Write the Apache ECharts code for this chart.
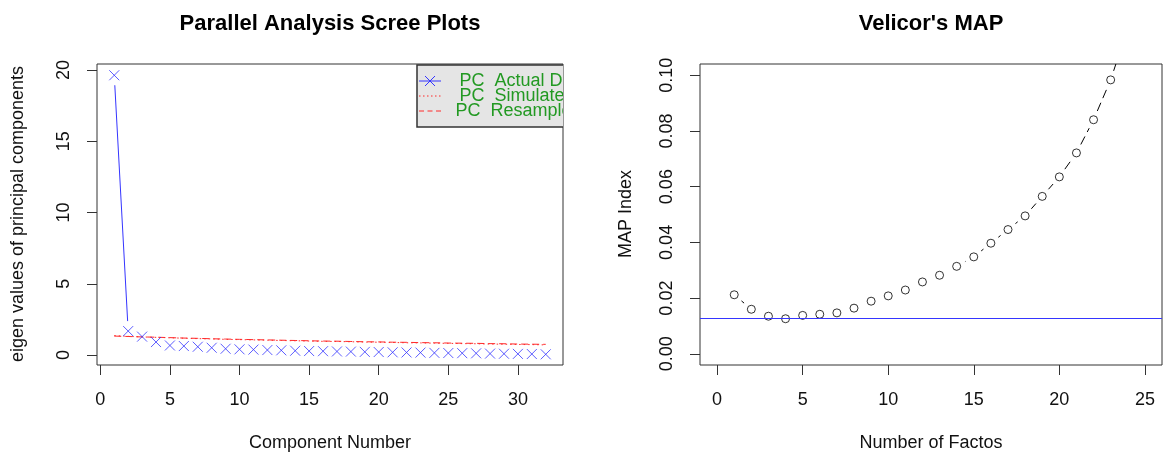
<!DOCTYPE html>
<html>
<head>
<meta charset="utf-8">
<title>Parallel Analysis / Velicor's MAP</title>
<script src="https://cdn.jsdelivr.net/npm/echarts@6/dist/echarts.min.js"></script>
<style>
  html, body { margin: 0; padding: 0; background: #fff; }
  #chart { width: 1169px; height: 466px; }
</style>
</head>
<body>
<div id="chart"></div>
<script>
// ---- Parallel analysis (left panel) ----
const componentNumbers = [1, 2, 3, 4, 5, 6, 7, 8, 9, 10, 11, 12, 13, 14, 15, 16,
  17, 18, 19, 20, 21, 22, 23, 24, 25, 26, 27, 28, 29, 30, 31, 32];
const actualEigen = [19.63, 1.68, 1.29, 0.91, 0.67, 0.63, 0.58, 0.51, 0.44, 0.40, 0.38, 0.35,
  0.33, 0.30, 0.28, 0.27, 0.25, 0.24, 0.22, 0.21, 0.19, 0.18, 0.17, 0.15, 0.14, 0.13,
  0.12, 0.10, 0.09, 0.08, 0.07, 0.05];
const simulatedEigen = [1.36, 1.31, 1.27, 1.24, 1.21, 1.18, 1.15, 1.13, 1.10, 1.08, 1.06, 1.04,
  1.02, 1.00, 0.98, 0.96, 0.95, 0.93, 0.91, 0.90, 0.88, 0.86, 0.85, 0.83, 0.82, 0.80,
  0.79, 0.77, 0.76, 0.74, 0.73, 0.71];
const resampledEigen = [1.33, 1.30, 1.27, 1.25, 1.22, 1.19, 1.17, 1.14, 1.12, 1.10, 1.08, 1.06,
  1.04, 1.02, 1.00, 0.98, 0.97, 0.95, 0.93, 0.92, 0.90, 0.89, 0.87, 0.86, 0.84, 0.83,
  0.82, 0.80, 0.79, 0.77, 0.76, 0.75];
const screeXTicks = [0, 5, 10, 15, 20, 25, 30];
const screeYTicks = [0, 5, 10, 15, 20];
const legendLabels = ['PC  Actual Data', 'PC  Simulated Data', 'PC  Resampled Data'];

// ---- Velicer's MAP (right panel) ----
const factorNumbers = [1, 2, 3, 4, 5, 6, 7, 8, 9, 10, 11, 12, 13, 14, 15, 16, 17, 18, 19,
  20, 21, 22, 23, 24, 25];
const mapIndex = [0.0212, 0.0160, 0.0135, 0.0126, 0.0138, 0.0142, 0.0147, 0.0164, 0.0189,
  0.0208, 0.0229, 0.0258, 0.0282, 0.0314, 0.0348, 0.0397, 0.0446, 0.0495, 0.0565,
  0.0635, 0.0721, 0.0840, 0.0983, 0.1170, 0.1390];
const mapXTicks = [0, 5, 10, 15, 20, 25];
const mapYTicks = [0, 0.02, 0.04, 0.06, 0.08, 0.10];

const FONT = '"Liberation Sans", Arial, sans-serif';
const BLUE = '#3535ff';
const RED = '#ff2a2a';
const GREEN = '#229922';
const FRAME = '#333333';

function zip(xs, ys) { return xs.map((x, i) => [x, ys[i]]); }

// Base-graphics style "both" line: segments stop short of each point.
function gappedLine(xs, ys, xi, yi, color, dash, gap) {
  const pairs = [];
  for (let i = 0; i < xs.length - 1; i++) pairs.push([xs[i], ys[i], xs[i + 1], ys[i + 1]]);
  return {
    type: 'custom', xAxisIndex: xi, yAxisIndex: yi, clip: true, silent: true, z: 3,
    data: pairs, encode: { x: [0, 2], y: [1, 3] },
    renderItem(params, api) {
      const a = api.coord([api.value(0), api.value(1)]);
      const b = api.coord([api.value(2), api.value(3)]);
      const dx = b[0] - a[0], dy = b[1] - a[1];
      const len = Math.hypot(dx, dy);
      if (len <= 2 * gap + 0.5) return null;
      const ux = dx / len, uy = dy / len;
      return {
        type: 'line',
        shape: { x1: a[0] + ux * gap, y1: a[1] + uy * gap, x2: b[0] - ux * gap, y2: b[1] - uy * gap },
        style: { stroke: color, lineWidth: 1, lineDash: dash }
      };
    }
  };
}

function valueAxis(grid, min, max, ticks, fmt, isY) {
  return {
    type: 'value', gridIndex: grid, min: min, max: max,
    axisLine: { show: false, onZero: false },
    splitLine: { show: false },
    axisTick: { show: true, inside: false, length: 10, lineStyle: { color: FRAME, width: 1 }, customValues: ticks },
    axisLabel: {
      customValues: ticks, formatter: fmt, color: '#111', fontFamily: FONT, fontSize: 18,
      margin: isY ? 24 : 26, rotate: isY ? 90 : 0
    }
  };
}

const chart = echarts.init(document.getElementById('chart'), null, { renderer: 'canvas' });

// legend key geometry (top-right corner of the left plotting region)
const keyX = 417, keyY = 65;
const keyRows = [keyY + 16, keyY + 31, keyY + 46];

const option = {
  animation: false,
  backgroundColor: '#ffffff',
  grid: [
    { left: 97, top: 64, width: 466, height: 301, show: true, borderColor: FRAME, borderWidth: 1, backgroundColor: 'transparent' },
    { left: 700, top: 64, width: 462, height: 301, show: true, borderColor: FRAME, borderWidth: 1, backgroundColor: 'transparent' }
  ],
  xAxis: [
    valueAxis(0, -0.24, 33.24, screeXTicks, v => String(v), false),
    valueAxis(1, -1, 26, mapXTicks, v => String(v), false)
  ],
  yAxis: [
    valueAxis(0, -0.7, 20.42, screeYTicks, v => String(v), true),
    valueAxis(1, -0.004, 0.104, mapYTicks, v => v.toFixed(2), true)
  ],
  graphic: [
    { type: 'text', x: 330, y: 24, style: { text: 'Parallel Analysis Scree Plots', fontFamily: FONT, fontSize: 22, fontWeight: 'bold', fill: '#000', align: 'center', verticalAlign: 'middle' } },
    { type: 'text', x: 931, y: 24, style: { text: "Velicor's MAP", fontFamily: FONT, fontSize: 22, fontWeight: 'bold', fill: '#000', align: 'center', verticalAlign: 'middle' } },
    { type: 'text', x: 330, y: 443, style: { text: 'Component Number', fontFamily: FONT, fontSize: 18, fill: '#111', align: 'center', verticalAlign: 'middle' } },
    { type: 'text', x: 931, y: 443, style: { text: 'Number of Factos', fontFamily: FONT, fontSize: 18, fill: '#111', align: 'center', verticalAlign: 'middle' } },
    { type: 'text', x: 18, y: 214, rotation: Math.PI / 2, style: { text: 'eigen values of principal components', fontFamily: FONT, fontSize: 18, fill: '#111', align: 'center', verticalAlign: 'middle' } },
    { type: 'text', x: 626, y: 214, rotation: Math.PI / 2, style: { text: 'MAP Index', fontFamily: FONT, fontSize: 18, fill: '#111', align: 'center', verticalAlign: 'middle' } }
  ],
  series: [
    // simulated and resampled eigenvalues
    {
      type: 'line', xAxisIndex: 0, yAxisIndex: 0, data: zip(componentNumbers, simulatedEigen),
      symbol: 'none', silent: true, z: 2,
      lineStyle: { color: RED, width: 1, type: [1.5, 3] }
    },
    {
      type: 'line', xAxisIndex: 0, yAxisIndex: 0, data: zip(componentNumbers, resampledEigen),
      symbol: 'none', silent: true, z: 2,
      lineStyle: { color: RED, width: 1, type: [7, 4] }
    },
    // actual eigenvalues
    gappedLine(componentNumbers, actualEigen, 0, 0, BLUE, null, 10),
    {
      type: 'scatter', xAxisIndex: 0, yAxisIndex: 0, data: zip(componentNumbers, actualEigen),
      symbol: 'path://M0,0L10,10M10,0L0,10', symbolSize: 10, silent: true, z: 4,
      itemStyle: { color: 'rgba(0,0,0,0)', borderColor: BLUE, borderWidth: 1 }
    },
    // legend box, key symbols and labels, clipped to the plotting region
    {
      type: 'custom', xAxisIndex: 0, yAxisIndex: 0, clip: true, silent: true, z: 10,
      data: [[0, 0]],
      renderItem(params, api) {
        const cs = params.coordSys;
        const right = cs.x + cs.width;
        const children = [
          { type: 'rect', shape: { x: keyX, y: keyY, width: right - keyX + 40, height: 62 }, style: { fill: '#e5e5e5', stroke: FRAME, lineWidth: 1.5 } },
          { type: 'polyline', shape: { points: [[keyX + 2, keyRows[0]], [keyX + 24, keyRows[0]]] }, style: { stroke: BLUE, fill: null, lineWidth: 1 } },
          { type: 'polyline', shape: { points: [[keyX + 8, keyRows[0] - 5], [keyX + 18, keyRows[0] + 5]] }, style: { stroke: BLUE, fill: null, lineWidth: 1 } },
          { type: 'polyline', shape: { points: [[keyX + 18, keyRows[0] - 5], [keyX + 8, keyRows[0] + 5]] }, style: { stroke: BLUE, fill: null, lineWidth: 1 } },
          { type: 'polyline', shape: { points: [[keyX + 2, keyRows[1]], [keyX + 24, keyRows[1]]] }, style: { stroke: RED, fill: null, lineWidth: 1, lineDash: [1.5, 2.5] } },
          { type: 'polyline', shape: { points: [[keyX + 2, keyRows[2]], [keyX + 24, keyRows[2]]] }, style: { stroke: RED, fill: null, lineWidth: 1, lineDash: [5, 3.5] } },
          { type: 'text', x: keyX + 42.5, y: keyRows[0], style: { text: legendLabels[0], fontFamily: FONT, fontSize: 18, fill: GREEN, verticalAlign: 'middle' } },
          { type: 'text', x: keyX + 42.5, y: keyRows[1], style: { text: legendLabels[1], fontFamily: FONT, fontSize: 18, fill: GREEN, verticalAlign: 'middle' } },
          { type: 'text', x: keyX + 38.5, y: keyRows[2], style: { text: legendLabels[2], fontFamily: FONT, fontSize: 18, fill: GREEN, verticalAlign: 'middle' } }
        ];
        return { type: 'group', children: children };
      }
    },
    // MAP values
    gappedLine(factorNumbers, mapIndex, 1, 1, '#000000', [9, 5], 9.5),
    {
      type: 'scatter', xAxisIndex: 1, yAxisIndex: 1, data: zip(factorNumbers, mapIndex),
      symbol: 'circle', symbolSize: 8, silent: true, clip: true, z: 4,
      itemStyle: { color: 'rgba(0,0,0,0)', borderColor: '#000', borderWidth: 1 },
      markLine: {
        silent: true, symbol: 'none', precision: 6, label: { show: false },
        lineStyle: { color: BLUE, type: 'solid', width: 1 },
        data: [{ yAxis: Math.min(...mapIndex) }]
      }
    }
  ]
};

chart.setOption(option);
</script>
</body>
</html>
